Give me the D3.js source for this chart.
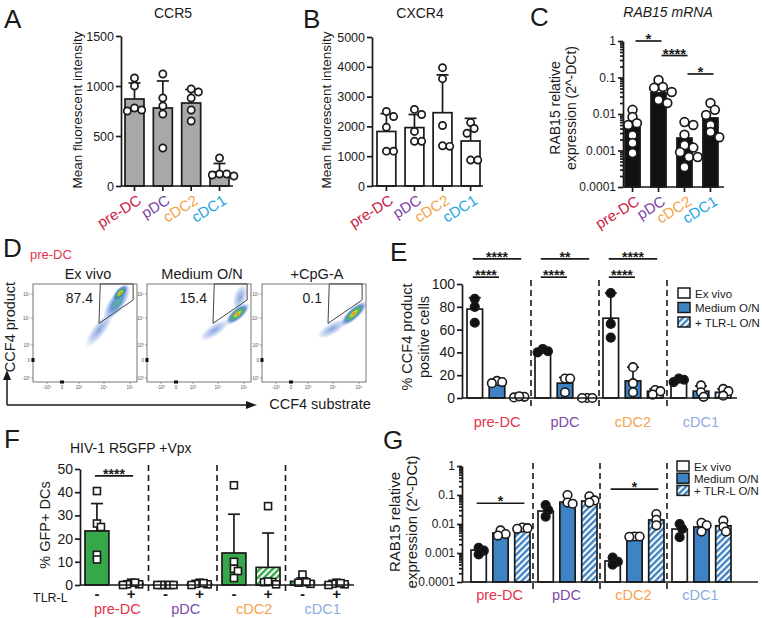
<!DOCTYPE html>
<html><head><meta charset="utf-8">
<script src="https://cdn.jsdelivr.net/npm/d3@7"></script>
<style>body{margin:0;background:#fff;} svg{display:block;}</style>
</head><body>
<script>
// ---------------- DATA ----------------
const cellTypes = ["pre-DC","pDC","cDC2","cDC1"];
const ccr5Mean = [870,780,830,140];
const ccr5SD = [160,270,135,85];
const ccr5Points = [[1080,1000,780,750,760],[1120,880,800,720,380],[970,940,880,760,650],[280,120,110,120,100]];
const ccr5Ticks = [0,500,1000,1500];
const cxcr4Mean = [1830,1960,2460,1510];
const cxcr4SD = [600,440,1270,760];
const cxcr4Points = [[2500,2330,1970,1170,1170],[2570,2400,1830,1500,1500],[3970,3600,2030,1330,1350],[2130,1930,1770,870,870]];
const cxcr4Ticks = [0,1000,2000,3000,4000,5000];
const rabMean = [0.0042,0.038,0.0022,0.0078];
const rabPoints = [[0.013,0.0083,0.0056,0.005,0.0026,0.0016,0.00085],[0.085,0.055,0.052,0.04,0.024,0.02],[0.006,0.005,0.0027,0.0014,0.0012,0.00066,0.00066,0.00035,0.0009],[0.02,0.013,0.0094,0.005,0.0032,0.0023]];
const rabSig = [{a:0,b:1,label:"*",y:1},{a:1,b:2,label:"****",y:0.4},{a:2,b:3,label:"*",y:0.125}];
const logTicks = [0.0001,0.001,0.01,0.1,1];
const logTickLabels = ["0.0001","0.001","0.01","0.1","1"];

const flowSamples = ["Ex vivo","Medium O/N","+CpG-A"];
const flowGatePct = ["87.4","15.4","0.1"];
const flowTickVals = [-1,0,1,2,3];
const flowTickLabels = ["-10³","0","10³","10⁴","10⁵"];
const flowGate = [[1.8,1.8],[1.85,3.42],[3.12,3.42],[3.12,2.75]];
const flowPops = [
  {s:0,x1:1.3,y1:0.9,x2:2.3,y2:2.2,w:0.5,d:1},
  {s:0,x1:2.05,y1:1.95,x2:2.95,y2:3.35,w:0.6,d:2},
  {s:0,x1:2.35,y1:2.7,x2:2.9,y2:3.38,w:0.38,d:3},
  {s:1,x1:1.3,y1:1.2,x2:2.4,y2:1.9,w:0.45,d:1},
  {s:1,x1:2.7,y1:2.3,x2:3.0,y2:3.4,w:0.5,d:1},
  {s:1,x1:2.3,y1:1.78,x2:3.2,y2:2.58,w:0.45,d:3},
  {s:2,x1:1.4,y1:1.3,x2:2.5,y2:1.9,w:0.45,d:1},
  {s:2,x1:2.3,y1:1.72,x2:3.3,y2:2.68,w:0.45,d:3}
];

const conditions = ["Ex vivo","Medium O/N","+ TLR-L O/N"];
const ccf4Mean = [[78,14,1],[41,13,0.4],[70,15,6],[15,6,5]];
const ccf4SD = [[10,1.5,0.8],[1.5,5,0.2],[22,12,2],[1.5,4.5,3]];
const ccf4Points = [[[87,80,66],[15,14,13],[1,0.5,1.5]],[[43,41,40],[17,17,5],[0,0,0]],[[92,65,53],[27,13,5],[7,6,3]],[[17,16,14],[11,5,1],[8,6,2]]];
const ccf4Ticks = [0,20,40,60,80,100];
const ccf4Sig = [{g:0,a:0,b:2,label:"****",y:122},{g:0,a:0,b:1,label:"****",y:106},{g:1,a:0,b:2,label:"**",y:122},{g:1,a:0,b:1,label:"****",y:106},{g:2,a:0,b:2,label:"****",y:122},{g:2,a:0,b:1,label:"****",y:106}];

const tlrStates = ["-","+"];
const gfpMean = [[23.3,0.7],[0.2,0.6],[13.8,7.6],[1.6,0.5]];
const gfpSD = [[11.8,0.4],[0.1,0.4],[16.7,14.8],[1.5,0.4]];
const gfpPoints = [[[40.5,26.5,25,13,11],[1,0.3,0,0.3,1]],[[0,0,0,0,0],[1,0.5,0,0.3,0.8]],[[43,10,7,6,3],[34,1.3,0.3,1.2,1.5]],[[4.5,1.5,1,0.5,1.2],[1,0.5,0,0.3,0.8]]];
const gfpTicks = [0,10,20,30,40,50];
const gfpSig = [{g:0,label:"****",y:47}];

const rabCondMean = [[0.00126,0.0049,0.0067],[0.028,0.057,0.062],[0.00053,0.0036,0.0138],[0.0067,0.0079,0.0087]];
const rabCondPoints = [[[0.0015,0.0012,0.0009],[0.006,0.0045,0.004],[0.0075,0.0072,0.0068]],[[0.045,0.03,0.018],[0.1,0.055,0.05],[0.09,0.065,0.055]],[[0.0007,0.0005,0.0004],[0.0037,0.0037,0.0036],[0.022,0.014,0.009]],[[0.01,0.0068,0.0035],[0.011,0.009,0.0055],[0.013,0.008,0.0055]]];
const rabCondSig = [{g:0,a:0,b:2,label:"*",y:0.052},{g:2,a:0,b:2,label:"*",y:0.16}];

// ---------------- STYLE ----------------
const FONT = '"Liberation Sans", Arial, Helvetica, sans-serif';
const INK = "#1a1a1a";
const colA = {"pre-DC":"#c8203e","pDC":"#7b3fa3","cDC2":"#f4a246","cDC1":"#1fa6df"};
const colE = {"pre-DC":"#e2334a","pDC":"#7d4aa6","cDC2":"#f4a24e","cDC1":"#8eaadb"};
const BLUE = "#3f83c4", GREEN = "#37a84a", GRAY = "#a8a8a8";
const SW = 1.7;

const svg = d3.select("body").append("svg").attr("width",762).attr("height",618)
  .style("font-family",FONT);
const defs = svg.append("defs");
function hatch(id, color){
  const p = defs.append("pattern").attr("id",id).attr("patternUnits","userSpaceOnUse")
    .attr("width",4.5).attr("height",4.5).attr("patternTransform","rotate(45)");
  p.append("rect").attr("width",4.5).attr("height",4.5).attr("fill","#fff");
  p.append("rect").attr("width",2.4).attr("height",4.5).attr("fill",color);
}
hatch("hBlue",BLUE); hatch("hGreen",GREEN);
function grad(id, stops){
  const g = defs.append("radialGradient").attr("id",id);
  stops.forEach(s=>g.append("stop").attr("offset",s[0]).attr("stop-color",s[1]).attr("stop-opacity",s[2]));
}
grad("d1",[["0%","#4f78cc",0.7],["65%","#7f9fe0",0.4],["100%","#a9c0ec",0.08]]);
grad("d2",[["0%","#3cb36a",0.9],["45%","#3d7fd0",0.8],["80%","#7f9fe0",0.45],["100%","#9fb8ea",0.1]]);
grad("d3",[["0%","#e8401c",1],["18%","#f0d030",1],["38%","#3db54a",0.95],["65%","#3b78cc",0.8],["85%","#7f9fe0",0.4],["100%","#9fb8ea",0.08]]);

function text(x,y,s,o={}){
  return svg.append("text").attr("x",x).attr("y",y).text(s)
    .attr("font-size",o.fs||14).attr("fill",o.fill||INK)
    .attr("text-anchor",o.anchor||"start")
    .attr("font-style",o.style||null).attr("font-weight",o.weight||null);
}
function vtext(x,y,s,fs){
  return svg.append("text").attr("transform",`translate(${x},${y}) rotate(-90)`)
    .attr("text-anchor","middle").attr("font-size",fs).attr("fill",INK).text(s);
}
function styleAxis(g, fs){
  g.attr("font-family",FONT);
  g.selectAll("path,line").attr("stroke",INK).attr("stroke-width",SW);
  g.selectAll("text").attr("font-size",fs).attr("fill",INK);
}
function swarm(vals, yFn, minD, gap){
  const idx = vals.map((v,i)=>i).sort((a,b)=>yFn(vals[a])-yFn(vals[b]));
  const placed=[], off=new Array(vals.length).fill(0);
  idx.forEach(i=>{
    const y=yFn(vals[i]); let cand=0;
    for(let s=0;s<40;s++){
      cand = s===0?0:(s%2?1:-1)*Math.ceil(s/2)*gap;
      if(placed.every(p=>Math.hypot(p.x-cand,p.y-y)>=minD)) break;
    }
    off[i]=cand; placed.push({x:cand,y});
  });
  return off;
}
function sigLine(x1,x2,y,label,fs){
  svg.append("line").attr("x1",x1).attr("x2",x2).attr("y1",y).attr("y2",y).attr("stroke",INK).attr("stroke-width",SW);
  text((x1+x2)/2, y+3, label, {fs:fs||14, anchor:"middle", weight:"bold"});
}

// ---------------- PANELS A, B, C ----------------
function simplePanel(cfg){
  const x = d3.scaleBand().domain(cellTypes).range(cfg.xr).paddingInner(cfg.pad).paddingOuter(0);
  const y = cfg.y, y0 = y.range()[0];
  const g = svg.append("g");
  g.selectAll("rect").data(cellTypes).join("rect")
    .attr("x",d=>x(d)).attr("width",x.bandwidth())
    .attr("y",(d,i)=>y(cfg.mean[i])).attr("height",(d,i)=>y0-y(cfg.mean[i]))
    .attr("fill",cfg.fill).attr("stroke",INK).attr("stroke-width",SW);
  if(cfg.sd){
    cellTypes.forEach((c,i)=>{
      const cx=x(c)+x.bandwidth()/2, yt=y(cfg.mean[i]+cfg.sd[i]);
      g.append("line").attr("x1",cx).attr("x2",cx).attr("y1",y(cfg.mean[i])).attr("y2",yt).attr("stroke",INK).attr("stroke-width",SW);
      g.append("line").attr("x1",cx-6).attr("x2",cx+6).attr("y1",yt).attr("y2",yt).attr("stroke",INK).attr("stroke-width",SW);
    });
  }
  cellTypes.forEach((c,i)=>{
    const cx=x(c)+x.bandwidth()/2;
    const off = swarm(cfg.pts[i], y, cfg.r*cfg.sep, cfg.r);
    g.selectAll(null).data(cfg.pts[i]).join("circle")
      .attr("cx",(d,j)=>cx+off[j]).attr("cy",d=>y(d)).attr("r",cfg.r)
      .attr("fill","#fff").attr("stroke",INK).attr("stroke-width",SW);
  });
  const ax = svg.append("g").attr("transform",`translate(${cfg.ax},0)`)
    .call(d3.axisLeft(y).tickValues(cfg.ticks).tickFormat(cfg.fmt).tickSize(5).tickPadding(2).tickSizeOuter(0));
  styleAxis(ax, cfg.tfs);
  if(cfg.minor){
    const mx = svg.append("g").attr("transform",`translate(${cfg.ax},0)`)
      .call(d3.axisLeft(y).tickValues(cfg.minor).tickFormat("").tickSize(3).tickSizeOuter(0));
    styleAxis(mx, cfg.tfs); mx.select(".domain").remove();
  }
  svg.append("line").attr("x1",cfg.ax).attr("x2",cfg.axEnd).attr("y1",y0).attr("y2",y0).attr("stroke",INK).attr("stroke-width",SW);
  cellTypes.forEach(c=>{
    const cx=x(c)+x.bandwidth()/2;
    svg.append("line").attr("x1",cx).attr("x2",cx).attr("y1",y0).attr("y2",y0+5).attr("stroke",INK).attr("stroke-width",SW);
    svg.append("text").attr("transform",`translate(${cx+8},${y0+17}) rotate(-32)`)
      .attr("text-anchor","end").attr("font-size",15).attr("fill",colA[c]).text(c);
  });
  return x;
}
function minorLog(){
  const m=[]; [1e-4,1e-3,1e-2,1e-1].forEach(d=>{for(let k=2;k<10;k++) m.push(d*k);}); return m;
}

// A
text(4,28,"A",{fs:26});
text(173,18,"CCR5",{fs:14,anchor:"middle"});
vtext(82,110,"Mean fluorescent intensity",13.5);
simplePanel({mean:ccr5Mean, sd:ccr5SD, pts:ccr5Points, y:d3.scaleLinear().domain([0,1500]).range([186,36]),
  xr:[125,229], pad:0.33, ax:121, axEnd:233, ticks:ccr5Ticks, fmt:d3.format("d"), fill:GRAY, r:3.6, sep:1.9, tfs:12.5});

// B
text(303,28,"B",{fs:26});
text(420,18,"CXCR4",{fs:14,anchor:"middle"});
vtext(331,110,"Mean fluorescent intensity",13.5);
simplePanel({mean:cxcr4Mean, sd:cxcr4SD, pts:cxcr4Points, y:d3.scaleLinear().domain([0,5000]).range([186,37]),
  xr:[377,480], pad:0.33, ax:372, axEnd:483, ticks:cxcr4Ticks, fmt:d3.format("d"), fill:"#fff", r:3.6, sep:1.9, tfs:12.5});

// C
text(530,26,"C",{fs:26});
text(668,17,"RAB15 mRNA",{fs:14,anchor:"middle",style:"italic"});
vtext(560,108,"RAB15 relative",14);
vtext(576,108,"expression (2^-DCt)",14);
const yC = d3.scaleLog().domain([1e-4,1]).range([187,41]);
const xC = simplePanel({mean:rabMean, sd:null, pts:rabPoints, y:yC,
  xr:[625,718], pad:0.42, ax:623, axEnd:724, ticks:logTicks, fmt:(d,i)=>logTickLabels[i], fill:"#111", r:4.4, sep:1.6, tfs:12, minor:minorLog()});
rabSig.forEach(s=>{
  const x1=xC(cellTypes[s.a])+xC.bandwidth()/2+3, x2=xC(cellTypes[s.b])+xC.bandwidth()/2+3;
  sigLine(x1,x2,yC(s.y),s.label,15);
});

// ---------------- PANEL D ----------------
text(3,257,"D",{fs:26});
text(30,259,"pre-DC",{fs:13,fill:"#e0364d"});
const boxLefts=[33,147,262], boxTop=284, boxW=104, boxH=98;
const fxOff=[14,29,46,71,97], fyOff=[94,76,61,34,10];
flowSamples.forEach((s,i)=>{
  const L=boxLefts[i];
  const fx=d3.scaleLinear().domain(flowTickVals).range(fxOff.map(o=>L+o));
  const fy=d3.scaleLinear().domain(flowTickVals).range(fyOff.map(o=>boxTop+o));
  text(L+boxW/2+3,279,s,{fs:14.5,anchor:"middle"});
  const pxd = fx(3)-fx(2);
  defs.append("clipPath").attr("id","clip"+i).append("rect").attr("x",L).attr("y",boxTop).attr("width",boxW).attr("height",boxH);
  const cg = svg.append("g").attr("clip-path",`url(#clip${i})`);
  flowPops.filter(p=>p.s===i).forEach(p=>{
    const ax1=fx(p.x1), ay1=fy(p.y1), ax2=fx(p.x2), ay2=fy(p.y2);
    const len=Math.hypot(ax2-ax1,ay2-ay1), ang=Math.atan2(ay2-ay1,ax2-ax1)*180/Math.PI;
    cg.append("ellipse").attr("cx",(ax1+ax2)/2).attr("cy",(ay1+ay2)/2)
      .attr("rx",len/2).attr("ry",p.w*pxd/2)
      .attr("transform",`rotate(${ang},${(ax1+ax2)/2},${(ay1+ay2)/2})`)
      .attr("fill",`url(#d${p.d})`);
  });
  svg.append("rect").attr("x",L).attr("y",boxTop).attr("width",boxW).attr("height",boxH)
    .attr("fill","none").attr("stroke","#666").attr("stroke-width",0.9);
  svg.append("polygon").attr("points",flowGate.map(q=>[fx(q[0]),fy(q[1])].join(",")).join(" "))
    .attr("fill","none").attr("stroke","#444").attr("stroke-width",1);
  text(fx(flowGate[0][0])-6,303,flowGatePct[i],{fs:14,anchor:"end"});
  flowTickVals.forEach((v,k)=>{
    svg.append("text").attr("x",fx(v)).attr("y",boxTop+boxH+7).attr("text-anchor","middle").attr("font-size",4.5).attr("fill","#555").text(flowTickLabels[k]);
    svg.append("text").attr("x",L-3).attr("y",fy(v)+1.5).attr("text-anchor","end").attr("font-size",4.5).attr("fill","#555").text(flowTickLabels[k]);
    svg.append("line").attr("x1",fx(v)).attr("x2",fx(v)).attr("y1",boxTop+boxH).attr("y2",boxTop+boxH+2).attr("stroke","#666").attr("stroke-width",0.6);
    svg.append("line").attr("x1",L-2).attr("x2",L).attr("y1",fy(v)).attr("y2",fy(v)).attr("stroke","#666").attr("stroke-width",0.6);
  });
  svg.append("rect").attr("x",L-1.5).attr("y",fy(0)-2).attr("width",3).attr("height",4).attr("fill","#111");
  svg.append("rect").attr("x",fx(0)-2).attr("y",boxTop+boxH-1.5).attr("width",4).attr("height",3).attr("fill","#111");
});
// arrows
const arrowG = svg.append("g").attr("stroke",INK).attr("stroke-width",1.5).attr("fill",INK);
arrowG.append("path").attr("d","M7,405 L7,378").attr("fill","none");
arrowG.append("path").attr("d","M3,380 L7,370 L11,380 Z").attr("stroke","none");
arrowG.append("path").attr("d","M7,405 L248,405").attr("fill","none");
arrowG.append("path").attr("d","M246,401 L257,405 L246,409 Z").attr("stroke","none");
vtext(15,327,"CCF4 product",14.5);
text(320,409,"CCF4 substrate",{fs:14.5,anchor:"middle"});

// ---------------- GROUPED PANELS ----------------
const condFill = ["#fff",BLUE,"url(#hBlue)"];
function groupedPanel(cfg){
  const gx = d3.scaleBand().domain(cellTypes).range(cfg.gr);
  const ix = d3.scaleBand().domain(cfg.conds).range(cfg.ir).paddingInner(cfg.pad);
  const y = cfg.y, y0 = y.range()[0];
  const cxOf=(gi,ci)=>gx(cellTypes[gi])+ix(cfg.conds[ci])+ix.bandwidth()/2;
  cellTypes.slice(1).forEach(c=>{
    svg.append("line").attr("x1",gx(c)).attr("x2",gx(c)).attr("y1",cfg.dash[0]).attr("y2",cfg.dash[1])
      .attr("stroke",INK).attr("stroke-width",1.6).attr("stroke-dasharray","6,4");
  });
  cellTypes.forEach((c,gi)=>{
    cfg.conds.forEach((k,ci)=>{
      const m=cfg.mean[gi][ci], cx=cxOf(gi,ci);
      svg.append("rect").attr("x",cx-ix.bandwidth()/2).attr("width",ix.bandwidth())
        .attr("y",y(m)).attr("height",y0-y(m)).attr("fill",cfg.fills[ci]).attr("stroke",INK).attr("stroke-width",SW);
      if(cfg.sd){
        const yt=y(m+cfg.sd[gi][ci]);
        svg.append("line").attr("x1",cx).attr("x2",cx).attr("y1",y(m)).attr("y2",yt).attr("stroke",INK).attr("stroke-width",SW);
        svg.append("line").attr("x1",cx-6).attr("x2",cx+6).attr("y1",yt).attr("y2",yt).attr("stroke",INK).attr("stroke-width",SW);
      }
    });
  });
  cellTypes.forEach((c,gi)=>{
    cfg.conds.forEach((k,ci)=>{
      const cx=cxOf(gi,ci), pts=cfg.pts[gi][ci];
      const off=swarm(pts,y,cfg.r*cfg.sep,cfg.r*cfg.gap);
      pts.forEach((v,j)=>{
        const fill = cfg.ptFill(ci);
        if(cfg.square){
          svg.append("rect").attr("x",cx+off[j]-cfg.r).attr("y",y(v)-cfg.r).attr("width",2*cfg.r).attr("height",2*cfg.r)
            .attr("fill",fill).attr("stroke",INK).attr("stroke-width",1.6);
        } else {
          svg.append("circle").attr("cx",cx+off[j]).attr("cy",y(v)).attr("r",cfg.r)
            .attr("fill",fill).attr("stroke",INK).attr("stroke-width",1.6);
        }
      });
    });
  });
  const ax = svg.append("g").attr("transform",`translate(${cfg.ax},0)`)
    .call(d3.axisLeft(y).tickValues(cfg.ticks).tickFormat(cfg.fmt).tickSize(5).tickPadding(2).tickSizeOuter(0));
  styleAxis(ax, cfg.tfs);
  if(cfg.minor){
    const mx = svg.append("g").attr("transform",`translate(${cfg.ax},0)`)
      .call(d3.axisLeft(y).tickValues(cfg.minor).tickFormat("").tickSize(3).tickSizeOuter(0));
    styleAxis(mx, cfg.tfs); mx.select(".domain").remove();
  }
  svg.append("line").attr("x1",cfg.ax).attr("x2",cfg.axEnd).attr("y1",y0).attr("y2",y0).attr("stroke",INK).attr("stroke-width",SW);
  cellTypes.forEach(c=>{
    text(gx(c)+gx.bandwidth()/2+cfg.labDx, cfg.labY, c, {fs:14.5, anchor:"middle", fill:colE[c]});
  });
  (cfg.sig||[]).forEach(s=>{
    const a = s.a===undefined?0:s.a, b = s.b===undefined?1:s.b;
    sigLine(cxOf(s.g,a)-2, cxOf(s.g,b)+2, y(s.y), s.label, 14);
  });
  return {gx, ix, cxOf};
}
function legend(x0, y0, dy){
  conditions.forEach((c,i)=>{
    svg.append("rect").attr("x",x0).attr("y",y0+i*dy-5).attr("width",12).attr("height",10)
      .attr("fill",condFill[i]).attr("stroke",INK).attr("stroke-width",1.5);
    text(x0+17,y0+i*dy+4.5,c,{fs:11.5});
  });
}

// E
text(390,261,"E",{fs:26});
vtext(412,337,"% CCF4 product",14.5);
vtext(429,337,"positive cells",14.5);
groupedPanel({conds:conditions, gr:[463,735], ir:[4,64], pad:0.3, y:d3.scaleLinear().domain([0,100]).range([398,284]),
  mean:ccf4Mean, sd:ccf4SD, pts:ccf4Points, fills:condFill, ptFill:ci=>ci===0?"#111":"#fff", r:4.3, sep:1.2, gap:0.6,
  ax:462, axEnd:737, ticks:ccf4Ticks, fmt:d3.format("d"), tfs:14, dash:[280,408], labY:427, labDx:0, sig:ccf4Sig});
legend(678,293,14.5);

// F
text(4,448,"F",{fs:26});
text(70,453,"HIV-1 R5GFP +Vpx",{fs:14});
vtext(50,525,"% GFP+ DCs",14.5);
const Fres = groupedPanel({conds:tlrStates, gr:[80,354], ir:[5,63], pad:0.3, y:d3.scaleLinear().domain([0,50]).range([585,469]),
  mean:gfpMean, sd:gfpSD, pts:gfpPoints, fills:[GREEN,"url(#hGreen)"], ptFill:()=>"#fff", r:3.5, square:true, sep:1.15, gap:1.15,
  ax:80, axEnd:354, ticks:gfpTicks, fmt:d3.format("d"), tfs:14, dash:[465,592], labY:614, labDx:3, sig:gfpSig});
text(33,602,"TLR-L",{fs:12.5});
cellTypes.forEach((c,gi)=>tlrStates.forEach((t,ci)=>{
  text(Fres.cxOf(gi,ci),599,t,{fs:15,anchor:"middle",weight:"bold"});
}));

// G
text(383,449,"G",{fs:26});
vtext(400,522,"RAB15 relative",15);
vtext(417,522,"expression (2^-DCt)",15);
groupedPanel({conds:conditions, gr:[466,734], ir:[5,64], pad:0.3, y:d3.scaleLog().domain([1e-4,1]).range([582,466]),
  mean:rabCondMean, sd:null, pts:rabCondPoints, fills:condFill, ptFill:ci=>ci===0?"#111":"#fff", r:4.3, sep:1.2, gap:0.6,
  ax:462, axEnd:758, ticks:logTicks, fmt:(d,i)=>logTickLabels[i], tfs:12, minor:minorLog(), dash:[463,590], labY:600, labDx:0, sig:rabCondSig});
legend(677,466,12.2);
</script>
</body></html>
